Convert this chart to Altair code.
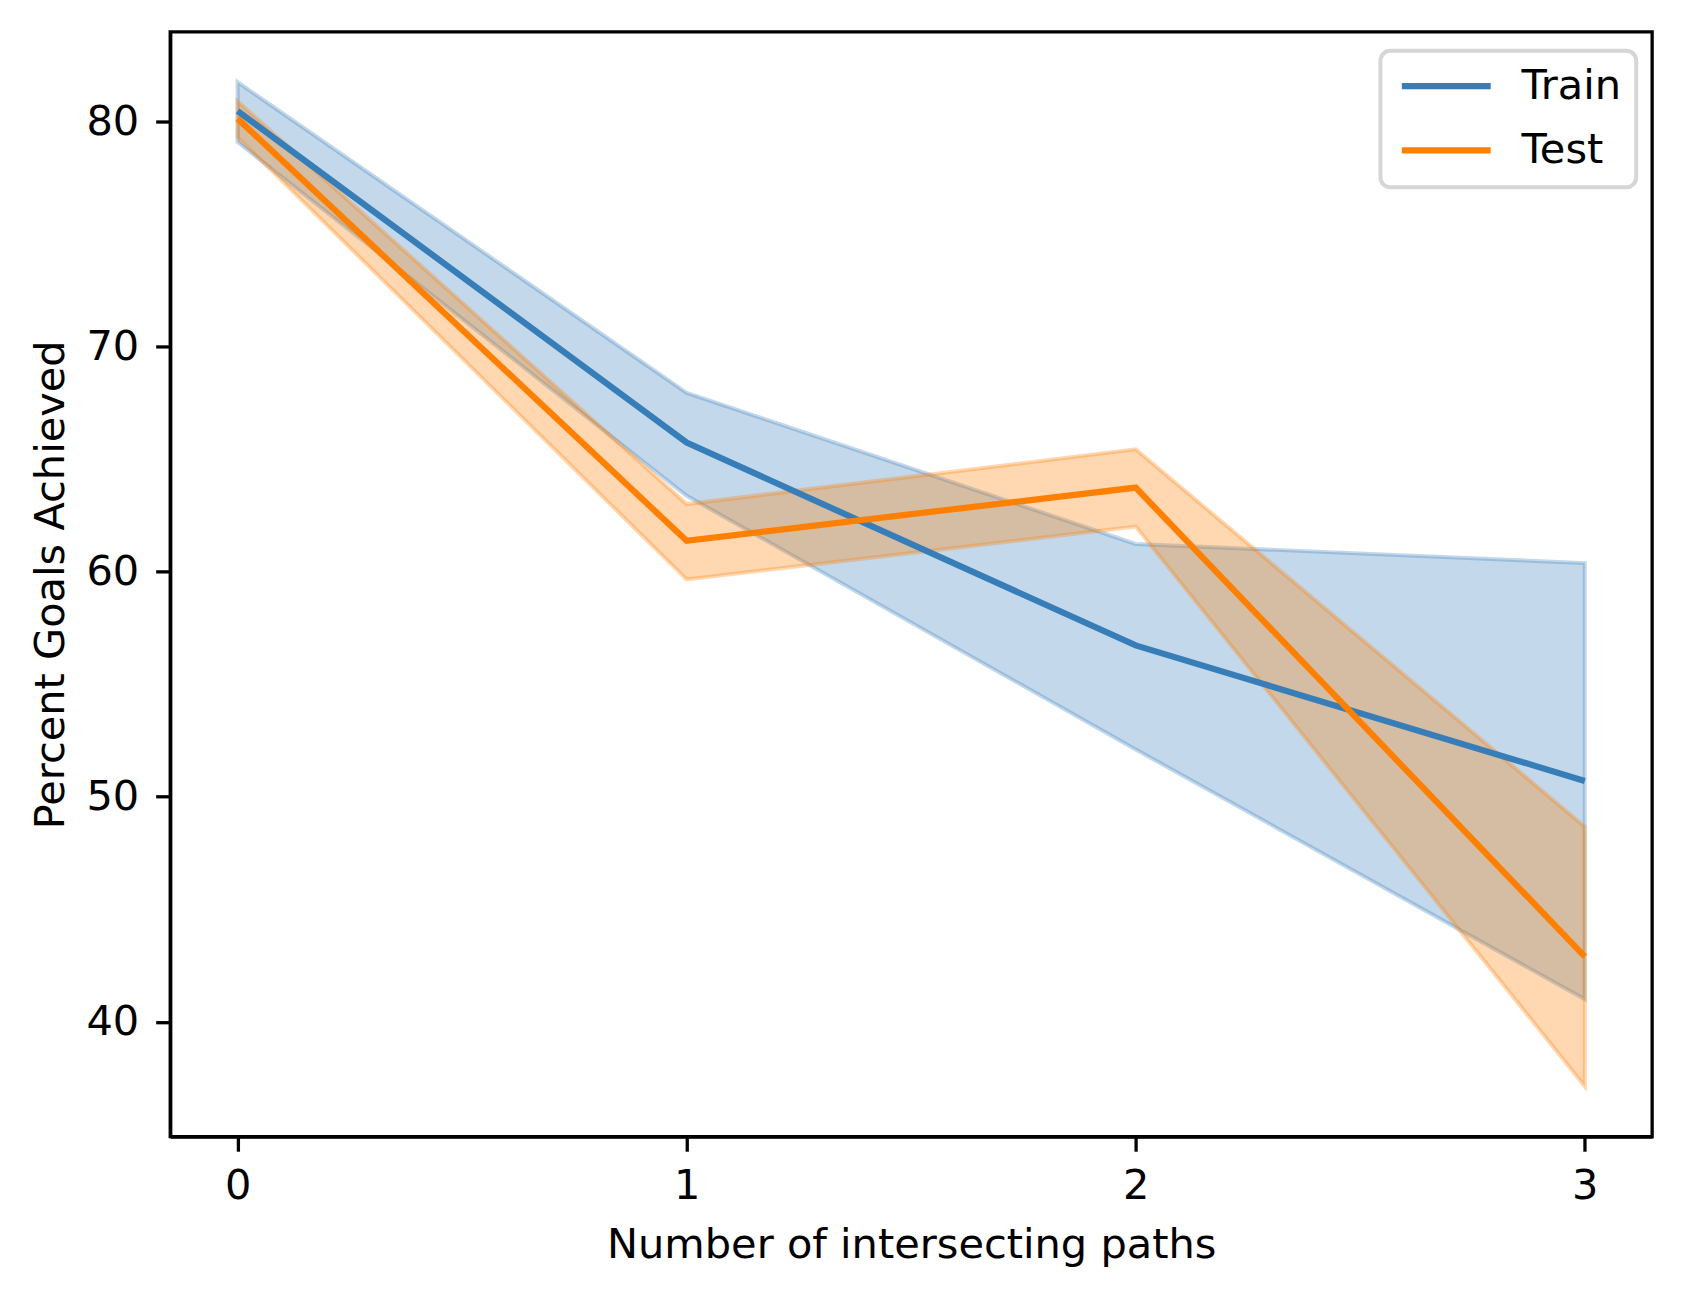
import altair as alt
import pandas as pd

# ---- data ----
x_vals = [0, 1, 2, 3]
train_mean = [80.46, 65.73, 56.72, 50.70]
train_lo = [79.08, 63.37, 52.10, 41.00]
train_hi = [81.74, 67.94, 61.23, 60.38]
test_mean = [80.12, 61.37, 63.73, 42.90]
test_lo = [79.30, 59.65, 62.00, 37.14]
test_hi = [80.89, 63.00, 65.43, 48.67]
series_names = ["Train", "Test"]
series_colors = ["#377eb8", "#ff7f00"]
x_ticks = [0, 1, 2, 3]
y_ticks = [40, 50, 60, 70, 80]

rows = []
for name, m, lo, hi in [("Train", train_mean, train_lo, train_hi),
                        ("Test", test_mean, test_lo, test_hi)]:
    for xv, a, b, c in zip(x_vals, m, lo, hi):
        rows.append({"x": xv, "series": name, "mean": a, "lo": b, "hi": c})
df = pd.DataFrame(rows)

FS = 41.7
FONT = "DejaVu Sans"

x_scale = alt.Scale(domain=[-0.15, 3.15], nice=False, zero=False)
y_scale = alt.Scale(domain=[34.9, 83.97], nice=False, zero=False)
color_scale = alt.Scale(domain=series_names, range=series_colors)

x_axis = alt.Axis(values=x_ticks, format="d", title="Number of intersecting paths",
                  titleY=121, titleBaseline="alphabetic", labelPadding=14.4,
                  labelFlush=False, grid=False)
y_axis = alt.Axis(values=y_ticks, format="d", title="Percent Goals Achieved",
                  titleX=-107, titleY=555, titleAngle=270, titleAlign="center",
                  titleBaseline="alphabetic", labelPadding=17, grid=False)

base = alt.Chart(df)

band = base.mark_area(fillOpacity=0.3, strokeOpacity=0.3, strokeWidth=4).encode(
    x=alt.X("x:Q", scale=x_scale, axis=x_axis),
    y=alt.Y("lo:Q", scale=y_scale, axis=y_axis),
    y2="hi:Q",
    fill=alt.Fill("series:N", scale=color_scale, legend=None),
    stroke=alt.Stroke("series:N", scale=color_scale, legend=None),
    detail="series:N",
)

line = base.mark_line(strokeWidth=6.25).encode(
    x=alt.X("x:Q", scale=x_scale, axis=x_axis),
    y=alt.Y("mean:Q", scale=y_scale, axis=y_axis),
    color=alt.Color("series:N", scale=color_scale,
                    legend=alt.Legend(title=None, orient="none", legendX=1216, legendY=19,
                                      symbolType="M-3,0H3", symbolSize=886,
                                      symbolOffset=30.8,
                                      symbolStrokeWidth=6.25, labelFontSize=FS,
                                      labelFont=FONT, labelColor="black", labelOffset=54.8,
                                      padding=14.5, cornerRadius=10, strokeColor="#d6d6d6",
                                      fillColor="white", rowPadding=21.7)),
)

chart = alt.layer(band, line).resolve_legend(
    color="independent", fill="independent", stroke="independent"
).properties(
    width=1489, height=1110,
    autosize=alt.AutoSizeParams(type="none"),
    padding={"left": 163, "top": 21, "right": 28, "bottom": 151},
).configure_view(
    stroke="black", strokeWidth=3.3
).configure_axis(
    domainColor="black", domainWidth=3.3, tickColor="black", tickWidth=3.3, tickSize=14.6,
    labelFont=FONT, labelFontSize=FS, labelColor="black",
    titleFont=FONT, titleFontSize=FS, titleColor="black", titleFontWeight="normal",
).configure_legend(strokeWidth=4)

chart.save("out.html", embed_options={"renderer": "svg", "actions": False})
